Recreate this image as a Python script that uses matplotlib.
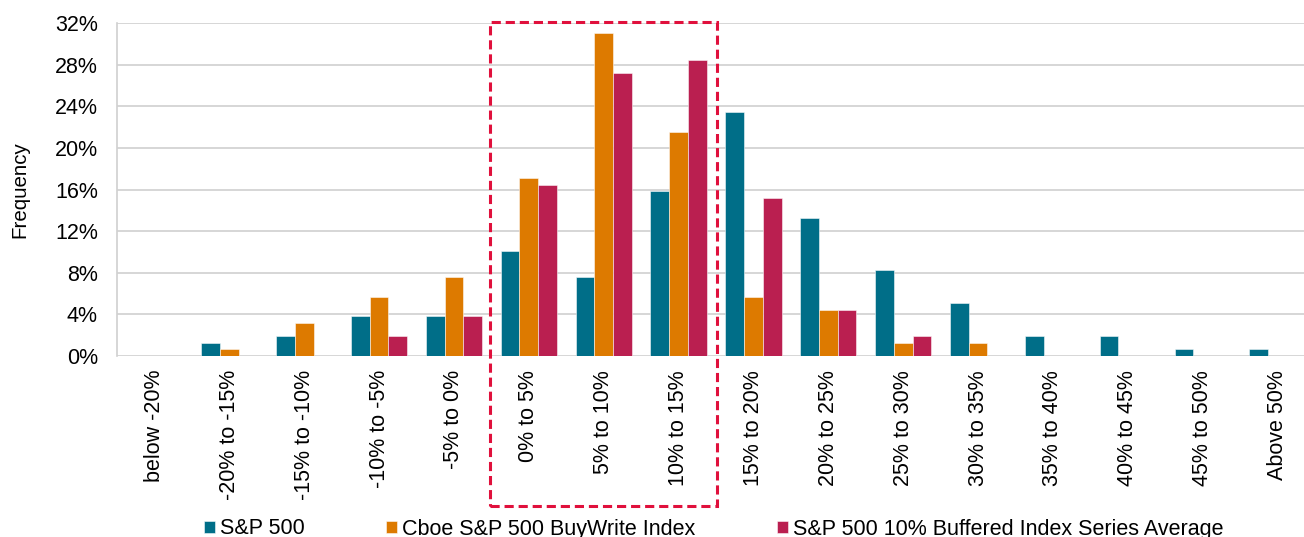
import matplotlib
matplotlib.use("Agg")
import matplotlib.pyplot as plt
import matplotlib.transforms as mtransforms
from matplotlib.patches import Rectangle
import numpy as np

plt.rcParams['font.family'] = ['Liberation Sans', 'DejaVu Sans']

categories = ["below -20%", "-20% to -15%", "-15% to -10%", "-10% to -5%", "-5% to 0%",
              "0% to 5%", "5% to 10%", "10% to 15%", "15% to 20%", "20% to 25%",
              "25% to 30%", "30% to 35%", "35% to 40%", "40% to 45%", "45% to 50%",
              "Above 50%"]

sp500 = [0.0, 1.27, 1.90, 3.80, 3.80, 10.13, 7.59, 15.82, 23.42, 13.29,
         8.23, 5.06, 1.90, 1.90, 0.63, 0.63]
buywrite = [0.0, 0.63, 3.16, 5.70, 7.59, 17.09, 31.01, 21.52, 5.70, 4.43,
            1.27, 1.27, 0.0, 0.0, 0.0, 0.0]
buffered = [0.0, 0.0, 0.0, 1.90, 3.80, 16.46, 27.22, 28.48, 15.19, 4.43,
            1.90, 0.0, 0.0, 0.0, 0.0, 0.0]

series_names = ["S&P 500", "Cboe S&P 500 BuyWrite Index",
                "S&P 500 10% Buffered Index Series Average"]
colors = ["#006E88", "#DD7A00", "#BA1F50"]

yticks = [0, 4, 8, 12, 16, 20, 24, 28, 32]

FS = 15.5
W, H = 1304, 537

fig = plt.figure(figsize=(W / 100, H / 100), dpi=100)
# plot area runs slightly past the right edge of the canvas
ax = fig.add_axes([117 / W, (H - 356) / H, (1315 - 117) / W, 333 / H])

x = np.arange(len(categories))
w = 0.25
for i, (vals, name, c) in enumerate(zip([sp500, buywrite, buffered], series_names, colors)):
    ax.bar(x + (i - 1) * w, vals, width=w, color=c, label=name,
           edgecolor=(1, 1, 1, 0.6), linewidth=0.6, zorder=3)

ax.set_xlim(-0.5, len(categories) - 0.5)
ax.set_ylim(0, 32)
ax.set_yticks(yticks)
ax.set_yticklabels([f"{t}%" for t in yticks])
ax.set_xticks(x)
ax.set_xticklabels(categories, rotation=90, va="top", ha="center")
ax.tick_params(axis="both", length=0, labelsize=FS, colors="#000000")
ax.tick_params(axis="y", pad=13.7)
ax.tick_params(axis="x", pad=10)

ax.grid(axis="y", color="#D0D0D0", linewidth=1.2, zorder=0)
for s in ["top", "right", "bottom"]:
    ax.spines[s].set_visible(False)
ax.spines["left"].set_color("#D0D0D0")
ax.spines["left"].set_linewidth(1.2)

ax.set_ylabel("Frequency", fontsize=14.8)
ax.yaxis.set_label_coords((8 - 117) / 1198 + 0.018, 0.5)

# Highlight box around the 0% to 15% buckets
trans = mtransforms.blended_transform_factory(ax.transData, fig.transFigure)
x0, x1 = 4.48, 7.51
y0, y1 = 1 - 506 / H, 1 - 22 / H
box = Rectangle((x0, y0), x1 - x0, y1 - y0, transform=trans, fill=False,
                edgecolor="#E0103C", linewidth=2.2, linestyle=(0, (3, 1.6)),
                clip_on=False, zorder=5)
fig.add_artist(box)

fig.legend(loc="center left", bbox_to_anchor=(204 / W, 1 - 529 / H),
           ncol=3, frameon=False, fontsize=FS, handlelength=0.51,
           handleheight=0.51, handletextpad=0.23, columnspacing=3.8,
           borderpad=0, borderaxespad=0)

fig.savefig("out.png", dpi=100)
